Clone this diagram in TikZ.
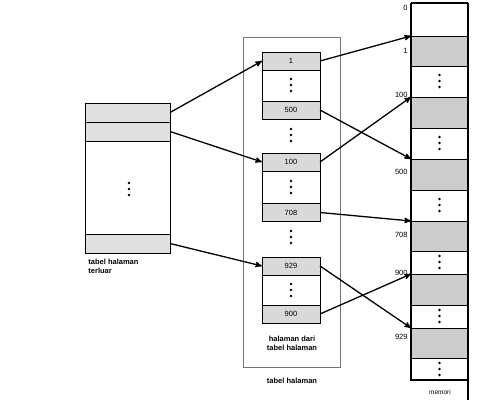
\documentclass[tikz,border=0pt]{standalone}
\usepackage{fontspec}
\setmainfont{Liberation Sans}
\usetikzlibrary{arrows,positioning}

\begin{document}
\begin{tikzpicture}[x=1pt,y=-1pt,>=stealth',line width=0.9pt,
  row node/.style={rectangle,draw,fill=black!15,minimum width=58pt,minimum height=18pt,
    inner sep=0pt,outer sep=0pt,font=\fontsize{7.5}{8}\selectfont},
  outer row/.style={rectangle,draw,fill=black!12,minimum width=85pt,minimum height=19pt,
    inner sep=0pt,outer sep=0pt},
  mem cell/.style={rectangle,draw,fill=black!20,minimum width=57pt,
    inner sep=0pt,outer sep=0pt},
  tri dots/.pic={\foreach \d in {-6,0,6} \fill (0,\d) circle (1.3pt);},
  num node/.style={inner sep=1pt,anchor=east,font=\fontsize{7.5}{8}\selectfont},
  txt node/.style={inner sep=0pt,font=\fontsize{7.5}{9}\selectfont\bfseries}]

  \useasboundingbox (0,0) rectangle (490,409);

  % tabel halaman terluar
  \draw (85,103) rectangle (170,253);
  \node[outer row] (o1) at (127.5,112.5) {};
  \node[outer row] (o2) at (127.5,131.5) {};
  \node[outer row] (o3) at (127.5,243.5) {};
  \pic at (129,189) {tri dots};
  \node[txt node,align=left,anchor=north west] (lbl1) at (88,259) {tabel halaman\\terluar};

  % tabel halaman
  \node[draw=black!55,line width=0.6pt,minimum width=97pt,minimum height=330pt] (tabel) at (291.5,202) {};
  \node[txt node] (lbl2) at (292,381) {tabel halaman};
  \node[txt node,align=center] (lbl3) at (292,343) {halaman dari\\tabel halaman};

  \node[row node] (p1) at (291,61) {1};
  \node[row node] (p500) at (291,110) {500};
  \node[row node] (p100) at (291,162) {100};
  \node[row node] (p708) at (291,212.5) {708};
  \node[row node] (p929) at (291,266) {929};
  \node[row node] (p900) at (291,314) {900};
  \draw (p1.north west) rectangle (p500.south east);
  \draw (p100.north west) rectangle (p708.south east);
  \draw (p929.north west) rectangle (p900.south east);
  \foreach \y in {85,135,187,237,290}
    \pic at (291,\y) {tri dots};

  % memori
  \foreach \top/\bot/\name in {36/66/g1, 97/128/g100, 159/190/g500,
                               221/251/g708, 274/305/g900, 328/358/g929}
    \node[mem cell,minimum height={\bot-\top}] (\name) at (439.5,{(\top+\bot)/2}) {};
  \draw[line width=1.2pt] (411,3) -- (468,3);
  \draw[line width=1.2pt] (411,3) -- (411,380) -- (468,380);
  \draw[line width=1.2pt] (468,3) -- (468,400);
  \foreach \y in {81,143,205,262,316,369}
    \pic at (439.5,\y) {tri dots};
  \node[inner sep=0pt,font=\fontsize{6.5}{7}\selectfont] (lbl4) at (440,392) {memori};

  \node[num node] (n0) at (409,8) {0};
  \node[num node] (n1) at (409,51) {1};
  \node[num node] (n100) at (409,95) {100};
  \node[num node] (n500) at (409,172) {500};
  \node[num node] (n708) at (409,235) {708};
  \node[num node] (n900) at (409,273) {900};
  \node[num node] (n929) at (409,337) {929};

  % panah
  \path[->,line width=1.3pt]
    (o1.east) edge (p1.west)
    (o2.east) edge (p100.west)
    (o3.east) edge (p929.west)
    (p1.east) edge (g1.north west)
    (p500.east) edge (g500.north west)
    (p100.east) edge (g100.north west)
    (p708.east) edge (g708.north west)
    (p929.east) edge (g929.north west)
    (p900.east) edge (g900.north west)
    ;

\end{tikzpicture}
\end{document}
